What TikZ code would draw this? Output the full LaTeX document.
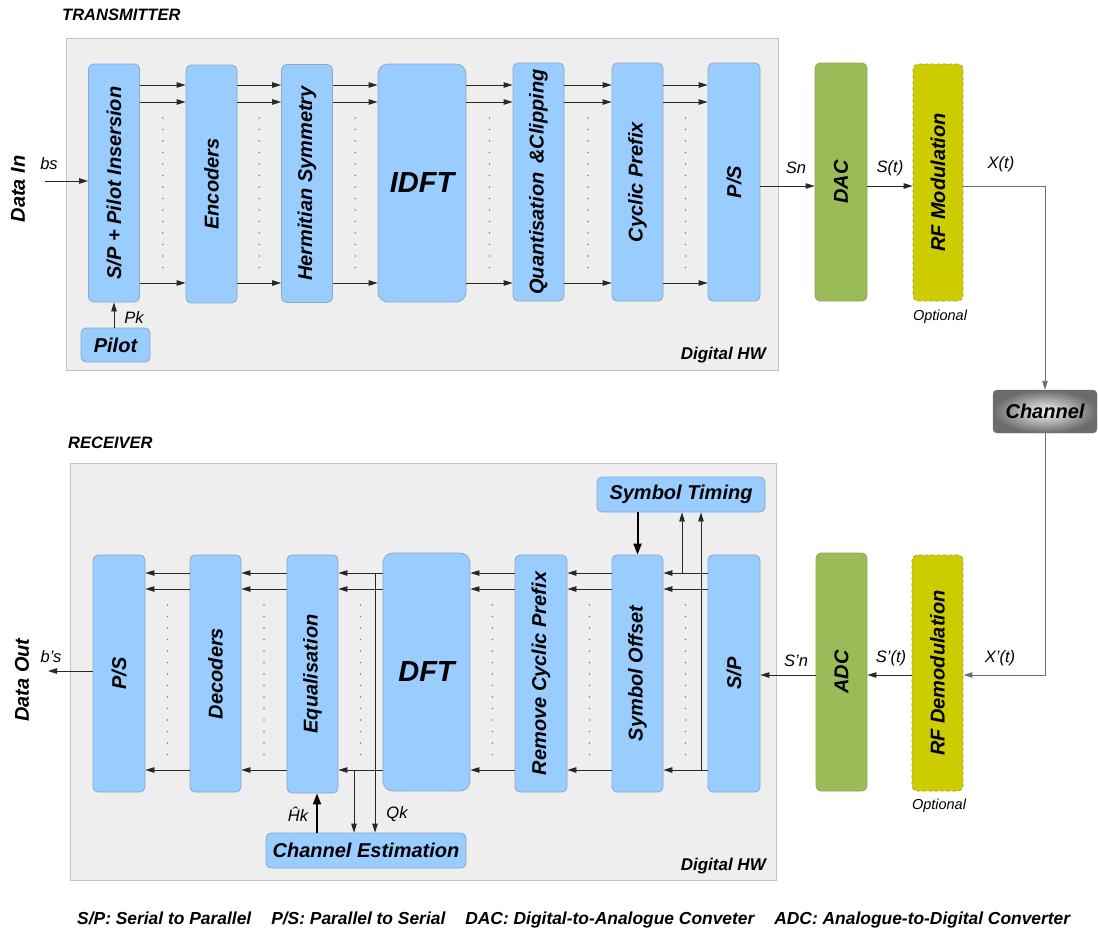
\documentclass[tikz,border=0pt]{standalone}
\usepackage{fontspec}
\setmainfont{Liberation Sans}
\usetikzlibrary{arrows.meta,calc}

\definecolor{blockblue}{RGB}{153,204,255}
\definecolor{blockedge}{RGB}{140,168,200}
\definecolor{hwgray}{RGB}{238,238,238}
\definecolor{hwedge}{RGB}{195,195,195}
\definecolor{dacgreen}{RGB}{155,187,89}
\definecolor{dacedge}{RGB}{140,170,88}
\definecolor{rfyellow}{RGB}{204,204,0}
\definecolor{rfedge}{RGB}{150,150,100}
\definecolor{wire}{RGB}{40,40,40}
\definecolor{linkgray}{RGB}{110,110,110}
\definecolor{dotgray}{RGB}{130,130,130}

\tikzset{
  x=1pt, y=-1pt,
  bi/.style={font=\fontsize{#1}{#1}\selectfont\bfseries\itshape},
  it/.style={font=\fontsize{#1}{#1}\selectfont\itshape},
  blk/.style={draw=blockedge, fill=blockblue, rounded corners=5pt, inner sep=0pt,
              line width=0.8pt, bi=20},
  bigblk/.style={blk, rounded corners=10pt, bi=29},
  dacblk/.style={blk, draw=dacedge, fill=dacgreen},
  rfblk/.style={blk, draw=rfedge, fill=rfyellow, dashed},
  hwbox/.style={draw=hwedge, fill=hwgray, line width=0.8pt},
  arr/.style={draw=wire, line width=0.8pt, -{Triangle[length=9pt,width=5.5pt]}},
  link/.style={draw=linkgray, line width=0.9pt},
  linkarr/.style={link, -{Triangle[length=9pt,width=5.5pt]}},
  boldarr/.style={draw=black, line width=2pt, -{Triangle[length=11pt,width=8pt]}},
  lbl/.style={inner sep=0pt, it=16.5},
  dots/.style={draw=dotgray, line width=1.7pt, line cap=round, dash pattern=on 0pt off 11.5pt},
}

\begin{document}
\begin{tikzpicture}
\useasboundingbox (0,0) rectangle (1098,932);

% ---------------- Transmitter ----------------
\node[anchor=west, inner sep=0pt, bi=16.5] (txtitle) at (62,15) {TRANSMITTER};
\path[hwbox] (66,38) rectangle (778,370);
\node[anchor=east, inner sep=0pt, bi=17] (txhw) at (766,355) {Digital HW};

\node[rotate=90, inner sep=0pt, bi=20] (datain) at (18,189) {Data In};

\node[blk, minimum width=51pt, minimum height=238pt] (sp)    at (114,183)   {\rotatebox{90}{S/P + Pilot Insersion}};
\node[blk, minimum width=51pt, minimum height=238pt] (enc)   at (211.5,184) {\rotatebox{90}{Encoders}};
\node[blk, minimum width=51pt, minimum height=238pt] (herm)  at (307,183.5) {\rotatebox{90}{Hermitian Symmetry}};
\node[bigblk, minimum width=88pt, minimum height=238pt] (idft) at (422,183) {IDFT};
\node[blk, minimum width=51pt, minimum height=238pt] (quant) at (538.5,182) {\rotatebox{90}{Quantisation \,\&Clipping}};
\node[blk, minimum width=51pt, minimum height=238pt] (cp)    at (637.5,182) {\rotatebox{90}{Cyclic Prefix}};
\node[blk, minimum width=52pt, minimum height=238pt] (ps)    at (734,182)   {\rotatebox{90}{P/S}};
\node[blk, minimum width=69pt, minimum height=34pt]  (pilot) at (115.5,345) {Pilot};

\node[dacblk, minimum width=52pt, minimum height=238pt] (dac)   at (841,182)   {\rotatebox{90}{DAC}};
\node[rfblk,  minimum width=50pt, minimum height=237pt] (rfmod) at (938,182.5) {\rotatebox{90}{RF Modulation}};
\node[it=14.5, inner sep=0pt] (opt1) at (940,317) {Optional};

\node[draw=gray, rounded corners=4pt, inner color=gray!8, outer color=black!58,
      minimum width=104pt, minimum height=43pt, inner sep=0pt, bi=20] (chan) at (1045,411.5) {Channel};

% parallel branches between transmitter stages
\foreach \a/\b in {sp/enc,enc/herm,herm/idft,idft/quant,quant/cp,cp/ps}{
  \foreach \r in {85,102,283}
    \draw[arr] (\a.east |- 0,\r) -- (\b.west |- 0,\r);
  \coordinate (m) at ($(\a.east)!0.5!(\b.west)$);
  \draw[dots] (m |- 0,118) -- (m |- 0,268);
}

\coordinate (bsin) at (45,181);
\draw[arr] (bsin) -- (sp.west |- bsin);
\node[lbl] (lbs) at (49,164) {bs};
\draw[arr] (pilot.north -| sp.south) -- (sp.south);
\node[lbl] (lpk) at (134,318) {Pk};

\draw[arr] (ps.east |- 0,186) -- (dac.west |- 0,186);
\node[lbl] (lsn) at (796,168) {Sn};
\draw[arr] (dac.east |- 0,186) -- (rfmod.west |- 0,186);
\node[lbl] (lst) at (890,168) {S(t)};
\draw[linkarr] (rfmod.east |- 0,186) -| (chan.north);
\node[lbl] (lxt) at (1001,164) {X(t)};

% ---------------- Receiver ----------------
\node[anchor=west, inner sep=0pt, bi=16.5] (rxtitle) at (68,443) {RECEIVER};
\path[hwbox] (70,463) rectangle (776,880);
\node[anchor=east, inner sep=0pt, bi=17] (rxhw) at (766,866) {Digital HW};

\node[rotate=90, inner sep=0pt, bi=20] (dataout) at (22,680) {Data Out};

\node[blk, minimum width=52pt, minimum height=237pt] (rps) at (119,673.5)   {\rotatebox{90}{P/S}};
\node[blk, minimum width=51pt, minimum height=237pt] (dec) at (215.5,673.5) {\rotatebox{90}{Decoders}};
\node[blk, minimum width=51pt, minimum height=238pt] (eq)  at (312.5,674)   {\rotatebox{90}{Equalisation}};
\node[bigblk, minimum width=87pt, minimum height=238pt] (dft) at (426.5,672) {DFT};
\node[blk, minimum width=52pt, minimum height=237pt] (rcp) at (541,673.5)   {\rotatebox{90}{Remove Cyclic Prefix}};
\node[blk, minimum width=51pt, minimum height=237pt] (so)  at (637.5,673.5) {\rotatebox{90}{Symbol Offset}};
\node[blk, minimum width=52pt, minimum height=237pt] (rsp) at (734,673.5)   {\rotatebox{90}{S/P}};
\node[blk, minimum width=168pt, minimum height=35pt] (st)  at (681,494.5)   {Symbol Timing};
\node[blk, minimum width=200pt, minimum height=35pt] (ce)  at (366,850.5)   {Channel Estimation};

\node[dacblk, minimum width=51pt, minimum height=238pt] (adc)   at (841.5,672) {\rotatebox{90}{ADC}};
\node[rfblk,  minimum width=51pt, minimum height=236pt] (rfdem) at (937.5,673) {\rotatebox{90}{RF Demodulation}};
\node[it=14.5, inner sep=0pt] (opt2) at (939,806) {Optional};

% parallel branches between receiver stages (right to left)
\foreach \a/\b in {rps/dec,dec/eq,eq/dft,dft/rcp,rcp/so,so/rsp}{
  \foreach \r in {573,589,770}
    \draw[arr] (\b.west |- 0,\r) -- (\a.east |- 0,\r);
  \coordinate (m) at ($(\a.east)!0.5!(\b.west)$);
  \draw[dots] (m |- 0,605) -- (m |- 0,755);
}

% timing feedback
\coordinate (tapA) at (682,573);
\coordinate (tapB) at (701,770);
\draw[arr] (tapA) -- (tapA |- st.south);
\draw[arr] (tapB) -- (tapB |- st.south);
\draw[boldarr] (so.north |- st.south) -- (so.north);

% channel estimation taps
\coordinate (tapQ) at (375,573);
\coordinate (tapH) at (354,770);
\draw[arr] (tapQ) -- (tapQ |- ce.north);
\draw[arr] (tapH) -- (tapH |- ce.north);
\node[lbl] (lqk) at (397,814) {Qk};
\draw[boldarr] ([xshift=4.5pt]eq.south |- ce.north) -- ([xshift=4.5pt]eq.south);
\node[lbl] (lhk) at (298,814) {Ĥk};

% analogue front end
\draw[linkarr] (chan.south) |- (rfdem.east |- 0,675);
\node[lbl] (lxpt) at (1000,658) {X'(t)};
\draw[arr] (rfdem.west |- 0,675) -- (adc.east |- 0,675);
\node[lbl] (lspt) at (891,658) {S'(t)};
\draw[arr] (adc.west |- 0,675) -- (rsp.east |- 0,675);
\node[lbl] (lspn) at (796,661) {S'n};

\coordinate (bout) at (48,671);
\draw[arr] (rps.west |- bout) -- (bout);
\node[lbl] (lbo) at (51,657) {b's};

% ---------------- Legend ----------------
\node[anchor=west, inner sep=0pt, bi=17.4] (legend) at (77,920)
  {S/P: Serial to Parallel\hspace{20pt}P/S: Parallel to Serial\hspace{20pt}DAC: Digital-to-Analogue Conveter\hspace{20pt}ADC: Analogue-to-Digital Converter};
\end{tikzpicture}
\end{document}
